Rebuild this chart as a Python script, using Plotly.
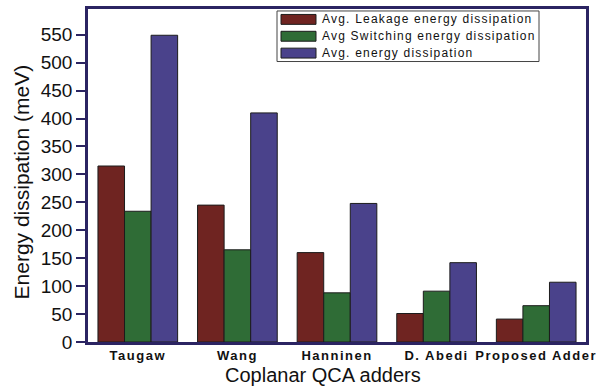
import plotly.graph_objects as go

categories = ["Taugaw", "Wang", "Hanninen", "D. Abedi", "Proposed Adder"]
series_names = ["Avg. Leakage energy dissipation",
                "Avg Switching energy dissipation",
                "Avg. energy dissipation"]
leakage = [315, 245, 160, 51, 41]
switching = [234, 165, 88, 91, 65]
total = [549, 410, 248, 142, 107]
y_ticks = [0, 50, 100, 150, 200, 250, 300, 350, 400, 450, 500, 550]

colors = ["#6f2421", "#2f6c36", "#4a428b"]
axis_col = "#2b2462"

fig = go.Figure()
for name, vals, c in zip(series_names, [leakage, switching, total], colors):
    fig.add_trace(go.Bar(x=categories, y=vals, name=name, marker_color=c,
                         marker_line_color="#1c1c1c", marker_line_width=1,
                         showlegend=False))

W, H = 606, 387
L, R, T, B = 88, 20, 6, 45
pw, ph = W - L - R, H - T - B

def px_x(x):
    return (x - L) / pw

def px_y(y):
    return (H - B - y) / ph

tick_text = ['<span style="letter-spacing:1.5px">%s</span>' % c for c in categories]

fig.update_layout(
    width=W, height=H,
    margin=dict(l=L, r=R, t=T, b=B),
    paper_bgcolor="white", plot_bgcolor="white",
    barmode="group", bargap=0.2, bargroupgap=0,
    font=dict(family="Liberation Sans, Arial, sans-serif", color="#111"),
    xaxis=dict(
        tickmode="array", tickvals=categories, ticktext=tick_text,
        tickfont=dict(size=13, family="Liberation Sans, Arial", color="#111", weight="bold"),
        showline=True, linecolor=axis_col, linewidth=2.5, mirror=True,
        ticks="", showgrid=False, range=[-0.5, 4.5],
    ),
    yaxis=dict(
        range=[0, 596], tickvals=y_ticks,
        tickfont=dict(size=19, color="#111"),
        showline=True, linecolor=axis_col, linewidth=2.5, mirror=True,
        ticks="outside", ticklen=9, tickwidth=2, tickcolor=axis_col,
        showgrid=False, zeroline=False,
    ),
)

shapes = []
annotations = []
# legend box
shapes.append(dict(type="rect", xref="paper", yref="paper",
                   x0=px_x(277), x1=px_x(539), y0=px_y(59), y1=px_y(8),
                   line=dict(color="#444", width=1), fillcolor="white"))
row_y = [16.5, 33.5, 50.5]
for name, c, ry in zip(series_names, colors, row_y):
    shapes.append(dict(type="rect", xref="paper", yref="paper",
                       x0=px_x(281), x1=px_x(316), y0=px_y(ry + 5), y1=px_y(ry - 5),
                       line=dict(color="#1c1c1c", width=1), fillcolor=c))
    annotations.append(dict(xref="paper", yref="paper", x=px_x(320), y=px_y(ry),
                            xanchor="left", yanchor="middle", showarrow=False,
                            text='<span style="letter-spacing:1.2px">%s</span>' % name,
                            font=dict(size=12, color="#111")))

annotations.append(dict(xref="paper", yref="paper", x=px_x(323), y=px_y(375),
                        xanchor="center", yanchor="middle", showarrow=False,
                        text="Coplanar QCA adders", font=dict(size=20, color="#111")))
annotations.append(dict(xref="paper", yref="paper", x=px_x(21), y=px_y(181),
                        xanchor="center", yanchor="middle", showarrow=False,
                        textangle=-90,
                        text="Energy dissipation (meV)", font=dict(size=21, color="#111")))
fig.update_layout(shapes=shapes, annotations=annotations)

fig.write_html("out.html", config={"displayModeBar": False},
               post_script="document.body.style.margin='0';document.body.style.padding='0';")
